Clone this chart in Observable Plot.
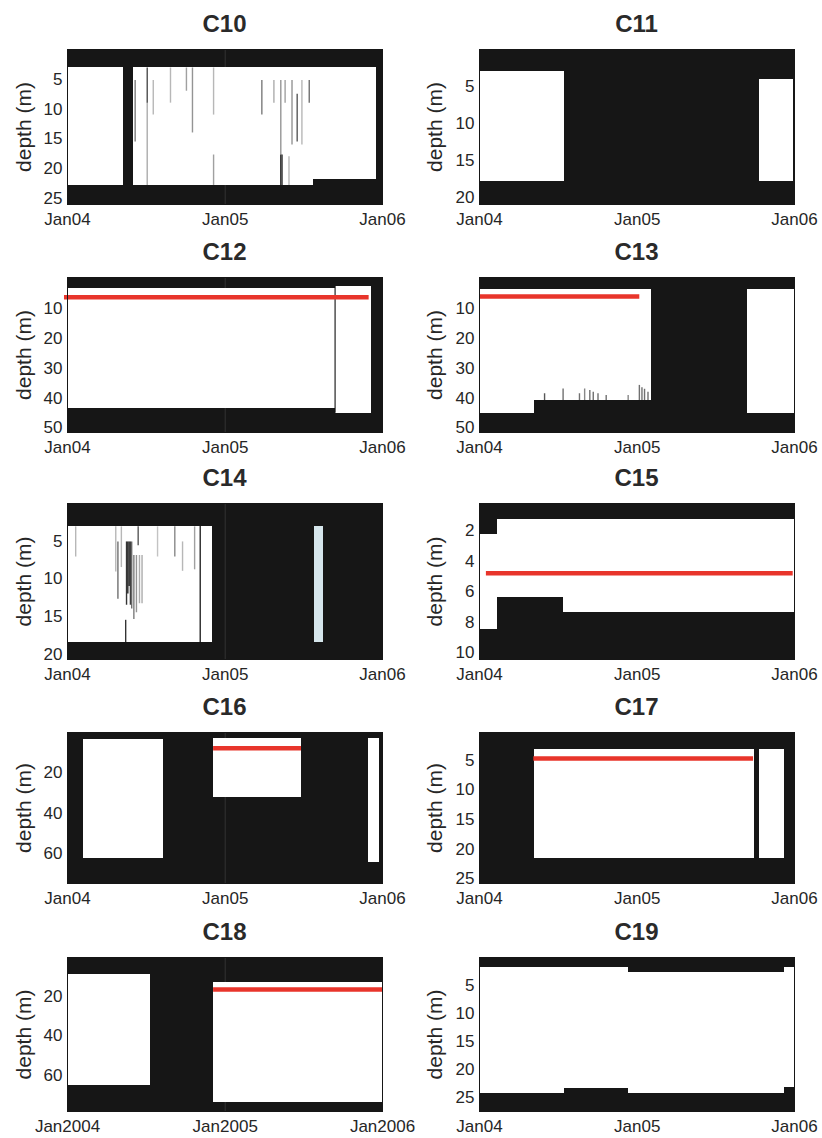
<!DOCTYPE html>
<html><head><meta charset="utf-8">
<script src="https://cdn.jsdelivr.net/npm/d3@7"></script>
<script src="https://cdn.jsdelivr.net/npm/@observablehq/plot@0.6"></script>
<style>
body{margin:0;background:#fff;}
#root{position:relative;width:822px;height:1138px;font-family:"Liberation Sans",Arial,sans-serif;overflow:hidden;}
.title{position:absolute;width:200px;margin-left:-100px;text-align:center;font-weight:bold;font-size:24px;color:#2a2a2a;line-height:24px;}
.panel{position:absolute;}
.panel svg{overflow:visible;}
</style></head><body><div id="root"></div>
<script>
// ---------- data ----------
const stations = ["C10","C11","C12","C13","C14","C15","C16","C17","C18","C19"];
const xTicks = ["2004-01-01","2005-01-01","2006-01-01"];
const xLabelsShort = ["Jan04","Jan05","Jan06"];
const xLabelsLong = ["Jan2004","Jan2005","Jan2006"];
const yLabel = "depth (m)";

const c10Ticks = [5,10,15,20,25];
const c11Ticks = [5,10,15,20];
const c12Ticks = [10,20,30,40,50];
const c13Ticks = [10,20,30,40,50];
const c14Ticks = [5,10,15,20];
const c15Ticks = [2,4,6,8,10];
const c16Ticks = [20,40,60];
const c17Ticks = [5,10,15,20,25];
const c18Ticks = [20,40,60];
const c19Ticks = [5,10,15,20,25];

const c10Depth = [0,26];
const c11Depth = [0,21];
const c12Depth = [-0.5,51.5];
const c13Depth = [-0.5,51.5];
const c14Depth = [0,20.7];
const c15Depth = [0.2,10.45];
const c16Depth = [0,74.8];
const c17Depth = [0.3,25.8];
const c18Depth = [0,78.5];
const c19Depth = [0,27.5];

// data coverage blocks: start, end, top depth, bottom depth, kind
const c10Blocks = [
  {start:"2004-01-01",end:"2004-05-10",top:3.1,bottom:22.8,kind:"full"},
  {start:"2004-06-02",end:"2005-07-24",top:3.1,bottom:22.8,kind:"full"},
  {start:"2005-07-24",end:"2005-12-19",top:3.1,bottom:21.8,kind:"full"}
];
const c11Blocks = [
  {start:"2004-01-01",end:"2004-07-17",top:3.0,bottom:17.9,kind:"full"},
  {start:"2005-10-11",end:"2005-12-29",top:4.1,bottom:17.9,kind:"full"}
];
const c12Blocks = [
  {start:"2004-01-01",end:"2005-09-13",top:3.3,bottom:43.4,kind:"full"},
  {start:"2005-09-13",end:"2005-12-07",top:2.5,bottom:45.0,kind:"full"}
];
const c13Blocks = [
  {start:"2004-01-01",end:"2004-05-07",top:3.5,bottom:45.0,kind:"full"},
  {start:"2004-05-07",end:"2005-02-02",top:3.5,bottom:40.8,kind:"full"},
  {start:"2005-09-14",end:"2005-12-31",top:3.5,bottom:45.0,kind:"full"}
];
const c14Blocks = [
  {start:"2004-01-01",end:"2004-12-02",top:3.05,bottom:18.5,kind:"full"},
  {start:"2005-07-28",end:"2005-08-16",top:3.05,bottom:18.5,kind:"partial"}
];
const c15Blocks = [
  {start:"2004-01-01",end:"2004-02-12",top:2.22,bottom:8.45,kind:"full"},
  {start:"2004-02-12",end:"2004-07-15",top:1.23,bottom:6.37,kind:"full"},
  {start:"2004-07-15",end:"2005-12-31",top:1.23,bottom:7.36,kind:"full"}
];
const c16Blocks = [
  {start:"2004-02-07",end:"2004-08-11",top:3.5,bottom:62.5,kind:"full"},
  {start:"2004-12-05",end:"2005-06-27",top:2.9,bottom:32.0,kind:"full"},
  {start:"2005-11-29",end:"2005-12-26",top:2.9,bottom:64.5,kind:"full"}
];
const c17Blocks = [
  {start:"2004-05-07",end:"2005-09-30",top:3.2,bottom:21.5,kind:"full"},
  {start:"2005-10-12",end:"2005-12-09",top:3.2,bottom:21.5,kind:"full"}
];
const c18Blocks = [
  {start:"2004-01-01",end:"2004-07-11",top:8.5,bottom:65,kind:"full"},
  {start:"2004-12-05",end:"2006-01-01",top:12.9,bottom:74,kind:"full"}
];
const c19Blocks = [
  {start:"2004-01-01",end:"2004-07-17",top:1.73,bottom:24.2,kind:"full"},
  {start:"2004-07-17",end:"2004-12-11",top:1.73,bottom:23.4,kind:"full"},
  {start:"2004-12-11",end:"2005-12-08",top:2.6,bottom:24.2,kind:"full"},
  {start:"2005-12-08",end:"2005-12-31",top:1.73,bottom:23.3,kind:"full"}
];

// short gaps in the records: date, top depth, bottom depth, shade
const c10Gaps = [
  {date:"2004-06-06",top:5.2,bottom:15.5,shade:0.55},
  {date:"2004-07-04",top:3.1,bottom:9,shade:0.75},
  {date:"2004-07-04",top:9,bottom:22.8,shade:0.35},
  {date:"2004-07-18",top:5.2,bottom:11,shade:0.3},
  {date:"2004-08-27",top:3.1,bottom:9,shade:0.3},
  {date:"2004-10-03",top:3.1,bottom:7,shade:0.4},
  {date:"2004-10-17",top:3.1,bottom:14,shade:0.45},
  {date:"2004-12-05",top:3.1,bottom:11,shade:0.3},
  {date:"2004-12-05",top:17.7,bottom:22.8,shade:0.4},
  {date:"2005-03-27",top:5.2,bottom:11,shade:0.55},
  {date:"2005-04-24",top:5.2,bottom:9,shade:0.35},
  {date:"2005-05-10",top:5.2,bottom:17.7,shade:0.45},
  {date:"2005-05-10",top:17.7,bottom:22.8,shade:0.9},
  {date:"2005-05-13",top:17.7,bottom:22.8,shade:0.8},
  {date:"2005-05-20",top:5.2,bottom:9,shade:0.4},
  {date:"2005-05-29",top:18,bottom:22.8,shade:0.3},
  {date:"2005-06-05",top:5.2,bottom:16,shade:0.45},
  {date:"2005-06-17",top:7.5,bottom:15.5,shade:0.7},
  {date:"2005-06-28",top:5.2,bottom:16,shade:0.3},
  {date:"2005-07-15",top:5.2,bottom:9,shade:0.6}
];
const c11Gaps = [];
const c12Gaps = [
  {date:"2005-09-13",top:2.5,bottom:45.0,shade:0.8}
];
const c13Gaps = [
  {date:"2004-05-31",top:38.5,bottom:40.8,shade:0.7},
  {date:"2004-07-13",top:36.9,bottom:40.8,shade:0.6},
  {date:"2004-08-20",top:38.5,bottom:40.8,shade:0.6},
  {date:"2004-09-01",top:36.9,bottom:40.8,shade:0.5},
  {date:"2004-09-13",top:37.4,bottom:40.8,shade:0.6},
  {date:"2004-09-21",top:38.0,bottom:40.8,shade:0.6},
  {date:"2004-10-02",top:38.5,bottom:40.8,shade:0.6},
  {date:"2004-10-21",top:39.1,bottom:40.8,shade:0.6},
  {date:"2004-12-11",top:39.1,bottom:40.8,shade:0.5},
  {date:"2005-01-06",top:35.7,bottom:40.8,shade:0.6},
  {date:"2005-01-12",top:36.5,bottom:40.8,shade:0.6},
  {date:"2005-01-18",top:37.0,bottom:40.8,shade:0.6},
  {date:"2005-01-26",top:38.0,bottom:40.8,shade:0.6}
];
const c14Gaps = [
  {date:"2004-01-20",top:3.1,bottom:7.1,shade:0.3},
  {date:"2004-04-22",top:3.1,bottom:9.1,shade:0.3},
  {date:"2004-04-27",top:5.1,bottom:12.7,shade:0.6},
  {date:"2004-05-05",top:3.1,bottom:8.5,shade:0.3},
  {date:"2004-05-15",top:15.5,bottom:18.5,shade:0.85},
  {date:"2004-05-17",top:5.1,bottom:13.5,shade:0.85},
  {date:"2004-05-20",top:5.1,bottom:12,shade:0.9},
  {date:"2004-05-23",top:5.1,bottom:11,shade:0.9},
  {date:"2004-05-26",top:5.1,bottom:13.5,shade:0.8},
  {date:"2004-05-29",top:5.1,bottom:14,shade:0.6},
  {date:"2004-06-03",top:6.9,bottom:15.4,shade:0.55},
  {date:"2004-06-09",top:6.9,bottom:14.5,shade:0.45},
  {date:"2004-06-13",top:3.1,bottom:5.6,shade:0.7},
  {date:"2004-06-16",top:6.9,bottom:13.3,shade:0.35},
  {date:"2004-06-22",top:6.9,bottom:13.3,shade:0.35},
  {date:"2004-07-28",top:3.1,bottom:7.1,shade:0.25},
  {date:"2004-09-06",top:3.1,bottom:7.1,shade:0.5},
  {date:"2004-09-24",top:5.1,bottom:9.0,shade:0.3},
  {date:"2004-10-22",top:3.1,bottom:8.8,shade:0.4},
  {date:"2004-11-04",top:3.05,bottom:18.5,shade:0.9}
];
const c15Gaps = [];
const c16Gaps = [];
const c17Gaps = [];
const c18Gaps = [];
const c19Gaps = [];

// reference sensor depth (red line): start, end, depth
const c10Sensor = [];
const c11Sensor = [];
const c12Sensor = [{start:"2003-12-25",end:"2005-12-01",depth:6.1}];
const c13Sensor = [{start:"2004-01-01",end:"2005-01-07",depth:5.9}];
const c14Sensor = [];
const c15Sensor = [{start:"2004-01-17",end:"2005-12-29",depth:4.78}];
const c16Sensor = [{start:"2004-12-05",end:"2005-06-27",depth:7.8}];
const c17Sensor = [{start:"2004-05-06",end:"2005-09-28",depth:4.7}];
const c18Sensor = [{start:"2004-12-05",end:"2006-01-01",depth:16.3}];
const c19Sensor = [];

// ---------- assembly ----------
const ticksList = [c10Ticks,c11Ticks,c12Ticks,c13Ticks,c14Ticks,c15Ticks,c16Ticks,c17Ticks,c18Ticks,c19Ticks];
const depthList = [c10Depth,c11Depth,c12Depth,c13Depth,c14Depth,c15Depth,c16Depth,c17Depth,c18Depth,c19Depth];
const blockList = [c10Blocks,c11Blocks,c12Blocks,c13Blocks,c14Blocks,c15Blocks,c16Blocks,c17Blocks,c18Blocks,c19Blocks];
const gapList = [c10Gaps,c11Gaps,c12Gaps,c13Gaps,c14Gaps,c15Gaps,c16Gaps,c17Gaps,c18Gaps,c19Gaps];
const sensorList = [c10Sensor,c11Sensor,c12Sensor,c13Sensor,c14Sensor,c15Sensor,c16Sensor,c17Sensor,c18Sensor,c19Sensor];

const parse = s => new Date(s + "T00:00:00Z");
const rowTop = [49,277,503,732,957];
const rowBottom = [204,432,659,883,1111];
const colLeft = [67,479];
const colRight = [382,794];
const BLACK = "#161616";
const TEXT = "#262626";
const FONT = "'Liberation Sans', Arial, Helvetica, sans-serif";
const root = document.getElementById("root");

stations.forEach((name, i) => {
  const col = i % 2, row = Math.floor(i / 2);
  const mt = 8, mb = 34;
  const h = rowBottom[row] - rowTop[row];
  const offsetX = col * 411;
  const ml = colLeft[col] - offsetX;
  const xLabels = name === "C18" ? xLabelsLong : xLabelsShort;
  const tickDates = xTicks.map(parse);
  const labelOf = new Map(tickDates.map((d, k) => [+d, xLabels[k]]));
  const blocks = blockList[i].map(d => ({...d, start: parse(d.start), end: parse(d.end)}));
  const gaps = gapList[i].map(d => ({...d, date: parse(d.date)}));
  const sensor = sensorList[i].map(d => ({...d, start: parse(d.start), end: parse(d.end)}));

  const chart = Plot.plot({
    width: 411,
    height: h + mt + mb,
    marginTop: mt,
    marginBottom: mb,
    marginLeft: ml,
    marginRight: offsetX + 411 - colRight[col],
    style: {fontFamily: FONT, fontSize: "17px", color: TEXT, background: "transparent", overflow: "visible"},
    x: {type: "utc", domain: [parse("2004-01-01"), parse("2006-01-01")]},
    y: {domain: depthList[i], reverse: true},
    opacity: {type: "identity"},
    marks: [
      Plot.frame({fill: BLACK, stroke: null, shapeRendering: "crispEdges"}),
      Plot.rect(blocks.filter(d => d.kind === "full"), {x1: "start", x2: "end", y1: "top", y2: "bottom", fill: "#ffffff", shapeRendering: "crispEdges"}),
      Plot.rect(blocks.filter(d => d.kind === "partial"), {x1: "start", x2: "end", y1: "top", y2: "bottom", fill: "#d6e6ec", shapeRendering: "crispEdges"}),
      Plot.ruleX(gaps, {x: "date", y1: "top", y2: "bottom", stroke: "#111", strokeOpacity: "shade", strokeWidth: 1.4}),
      col === 0 ? Plot.ruleX([parse("2005-01-01")], {stroke: "#ffffff", strokeOpacity: 0.12, strokeWidth: 1}) : null,
      Plot.ruleY(sensor, {y: "depth", x1: "start", x2: "end", stroke: "#e8352b", strokeWidth: 4.5}),
      Plot.axisX({ticks: tickDates, tickFormat: d => labelOf.get(+d), tickSize: 0, tickPadding: 8, fontSize: 17, label: null}),
      Plot.axisY({ticks: ticksList[i], tickSize: 0, tickPadding: 5, fontSize: 17, label: null}),
      Plot.text([yLabel], {text: d => d, frameAnchor: "left", rotate: -90, dx: -(ml - 24), fontSize: 21, fill: TEXT, lineAnchor: "middle", textAnchor: "middle"}),
      Plot.frame({stroke: BLACK, strokeWidth: 1})
    ]
  });

  const wrap = document.createElement("div");
  wrap.className = "panel";
  wrap.style.left = offsetX + "px";
  wrap.style.top = (rowTop[row] - mt) + "px";
  wrap.appendChild(chart);
  root.appendChild(wrap);

  const t = document.createElement("div");
  t.className = "title";
  t.textContent = name;
  t.style.left = ((colLeft[col] + colRight[col]) / 2) + "px";
  t.style.top = (rowTop[row] - 25 - 12) + "px";
  root.appendChild(t);
});
</script></body></html>
